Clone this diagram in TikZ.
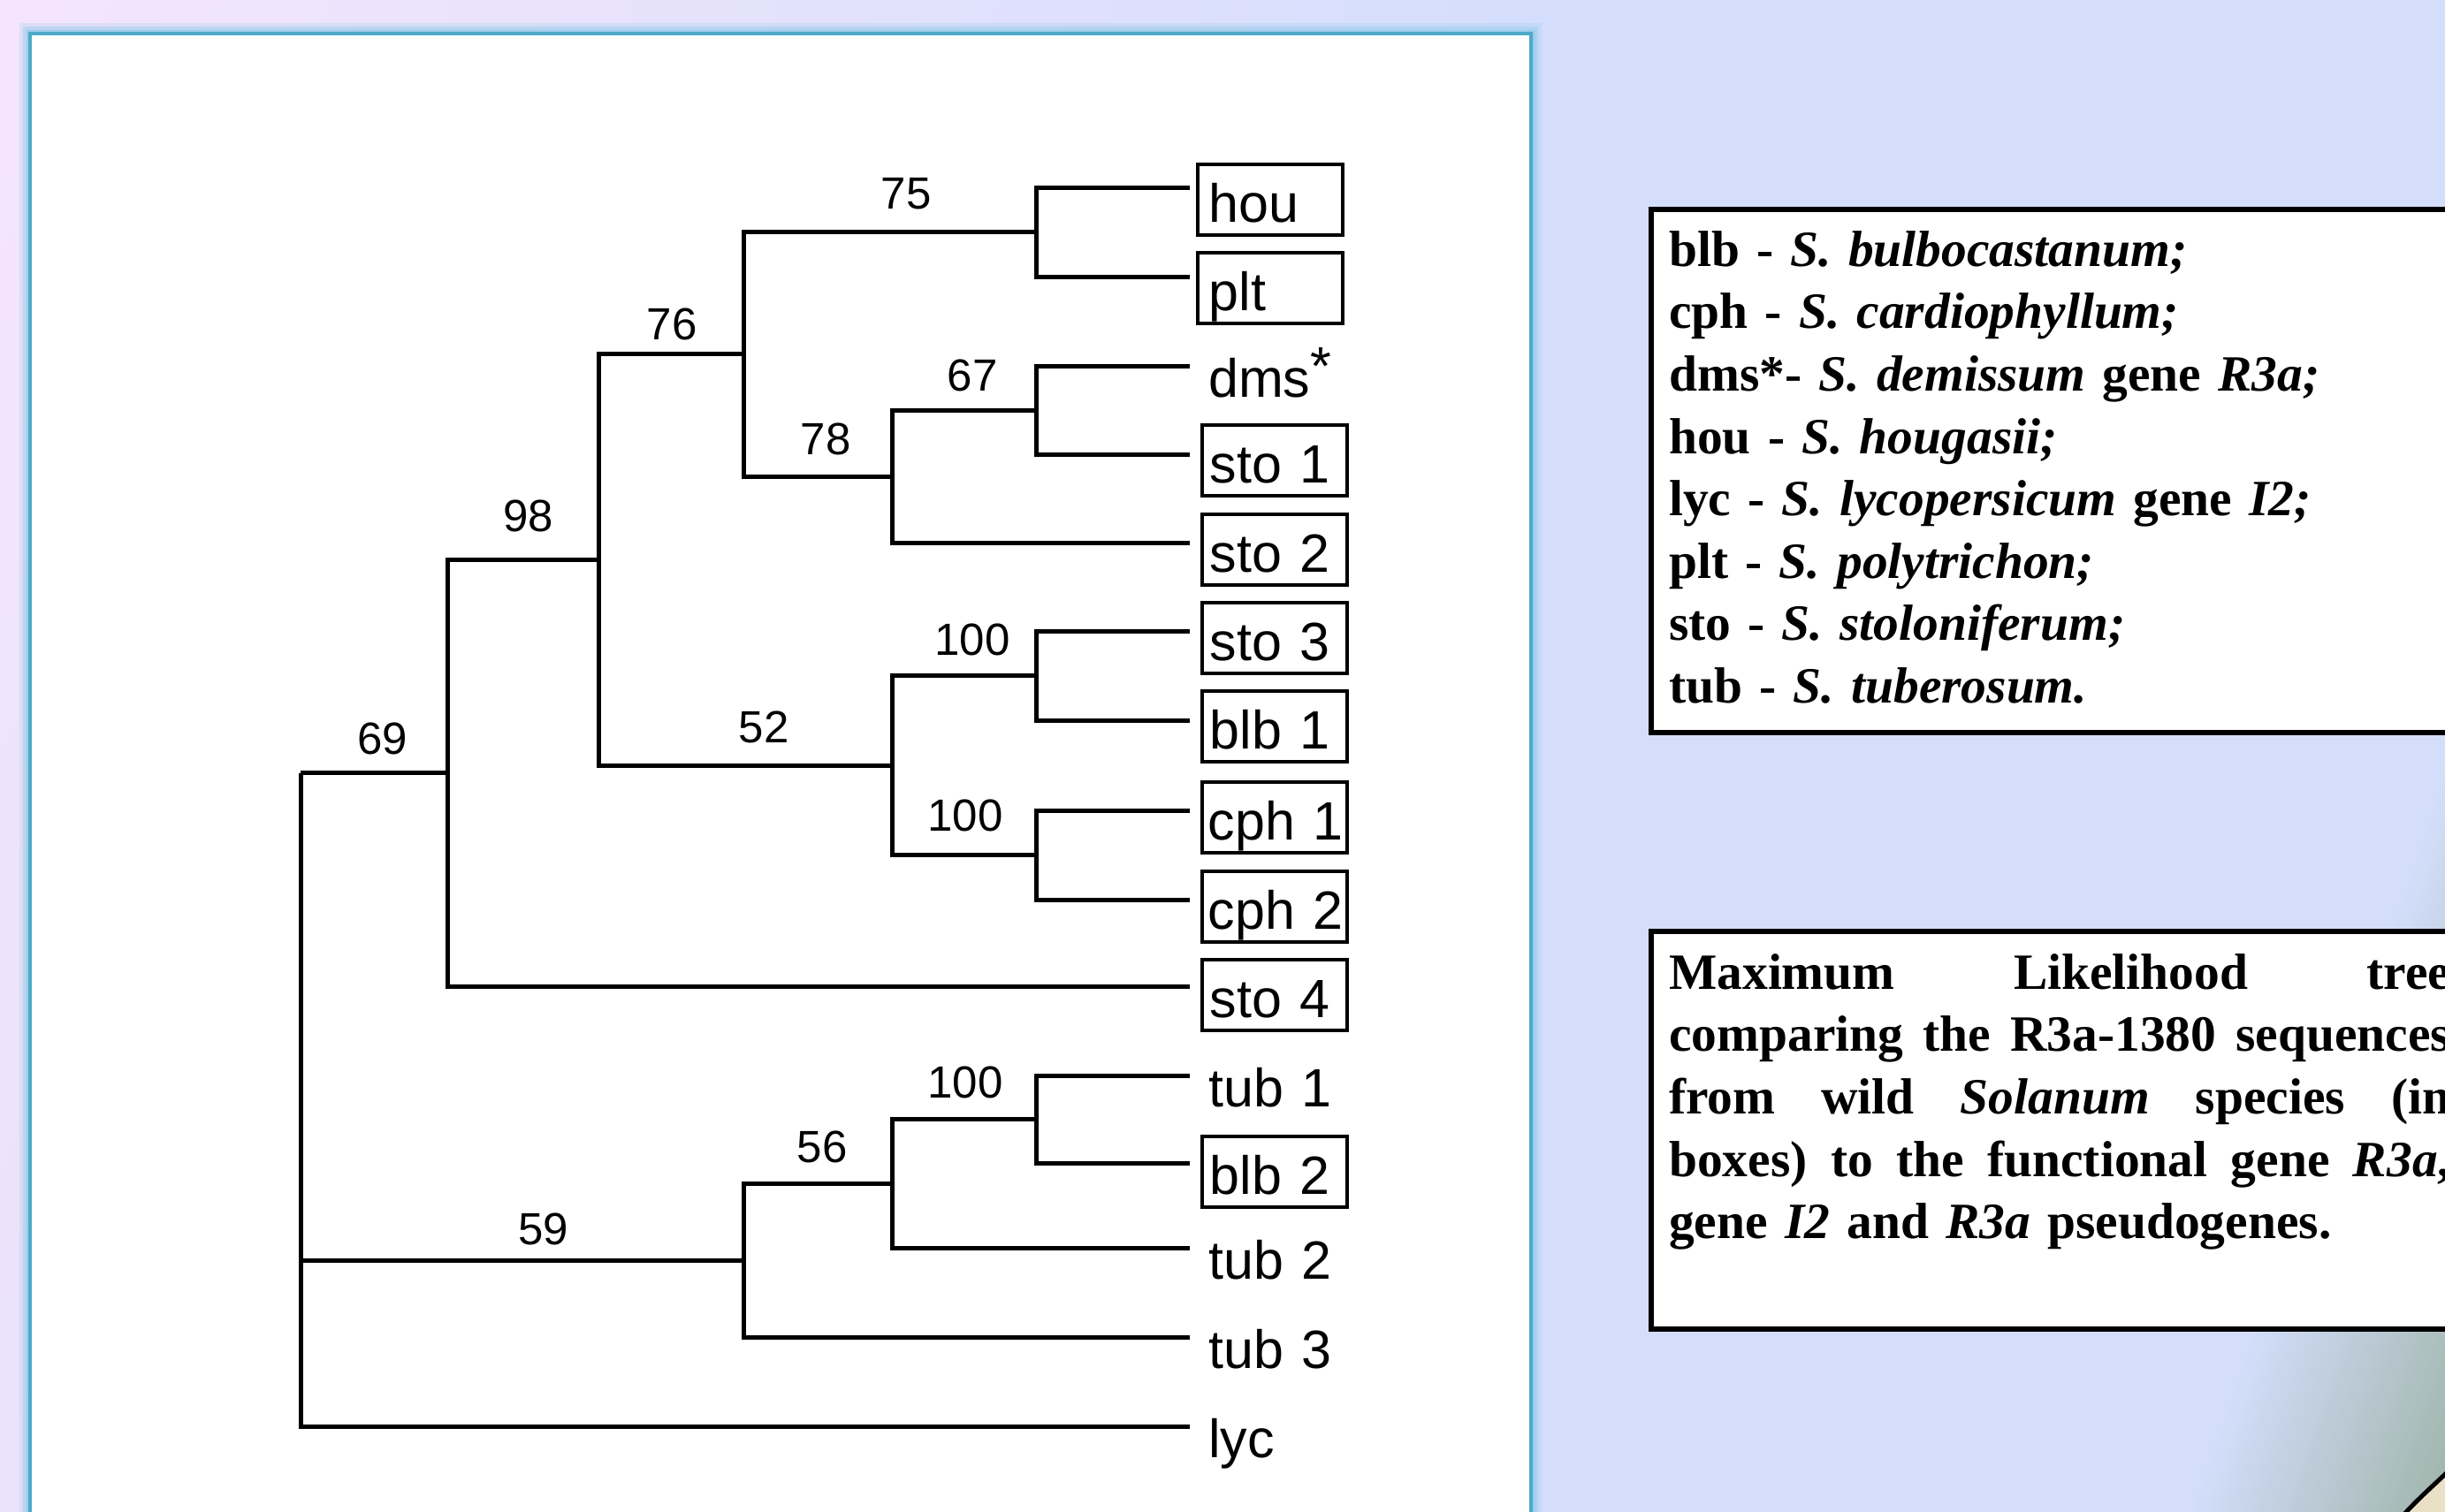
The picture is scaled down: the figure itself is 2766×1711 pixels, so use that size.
\documentclass[tikz,border=0pt]{standalone}
\usepackage{fontspec}
\setmainfont{Liberation Serif}
\newfontfamily\arialf{Liberation Sans}
\usetikzlibrary{calc,shadings}
\definecolor{bgpink}{RGB}{245,229,252}
\definecolor{bglav}{RGB}{234,226,251}
\definecolor{bgblue}{RGB}{212,222,252}
\definecolor{cornergrey}{RGB}{160,180,170}
\definecolor{curlbeige}{RGB}{233,224,198}
\definecolor{panelteal}{RGB}{78,170,200}
\definecolor{panelglow}{RGB}{152,204,234}
\begin{document}
\begin{tikzpicture}[x=1pt,y=-1pt,
  branch/.style={line width=5pt, line join=miter, line cap=butt},
  leaflab/.style={anchor=west, font=\arialf\fontsize{61}{61}\selectfont, text width=164pt, align=left,
     inner xsep=0pt, inner ysep=5pt, text height=60pt, text depth=10pt, minimum height=80pt},
  boxedlab/.style={leaflab, draw, line width=3.8pt},
  boot/.style={font=\arialf\fontsize{51}{51}\selectfont, inner sep=0pt},
  legbox/.style={draw, line width=5.5pt, fill=white, anchor=north west, minimum width=1000pt},
  legtext/.style={anchor=north west, inner sep=0pt, text width=950pt, align=left,
     font=\bfseries\fontsize{57.5}{70.6}\selectfont}]
\useasboundingbox (0,0) rectangle (2766,1711);
\clip (0,0) rectangle (2766,1711);
% background
\shade[upper left=bgpink, upper right=bgblue, lower left=bglav, lower right=bgblue] (0,0) rectangle (1760,1711);
\fill[bgblue] (1759,0) rectangle (2766,1711);
% corner shadow
\coordinate (cA) at (2470,1711);
\coordinate (cB) at (2766,847);
\coordinate (cC) at (2766,1711);
\foreach \i in {0,...,59} {
  \pgfmathsetmacro\tt{\i/60}
  \pgfmathtruncatemacro\pct{100*\i/59}
  \fill[cornergrey!\pct!bgblue] ($(cA)!\tt!(cC)$) -- ($(cB)!\tt!(cC)$) -- (cC) -- cycle;
}
% page curl
\fill[curlbeige] (2712,1722) .. controls (2735,1696) and (2752,1682) .. (2778,1657) -- (2800,1657) -- (2800,1750) -- (2712,1750) -- cycle;
\draw[line width=5pt] (2712,1722) .. controls (2735,1696) and (2752,1682) .. (2778,1657);
% panel
\draw[panelglow, line width=24pt, opacity=0.25] (34,38) rectangle (1732,1780);
\draw[panelglow, line width=16pt, opacity=0.45] (34,38) rectangle (1732,1780);
\draw[panelglow, line width=9pt, opacity=0.8] (34,38) rectangle (1732,1780);
\fill[white] (34,38) rectangle (1732,1780);
\draw[panelteal, line width=4pt] (34,38) rectangle (1732,1780);
% leaf end points
\coordinate (Lhou) at (1346,212);
\coordinate (Lplt) at (1346,313);
\coordinate (Ldms) at (1346,414);
\coordinate (Lsto1) at (1346,514);
\coordinate (Lsto2) at (1346,614);
\coordinate (Lsto3) at (1346,714);
\coordinate (Lblb1) at (1346,815);
\coordinate (Lcph1) at (1346,917);
\coordinate (Lcph2) at (1346,1018);
\coordinate (Lsto4) at (1346,1116);
\coordinate (Ltub1) at (1346,1217);
\coordinate (Lblb2) at (1346,1316);
\coordinate (Ltub2) at (1346,1412);
\coordinate (Ltub3) at (1346,1513);
\coordinate (Llyc) at (1346,1614);
% internal nodes
\coordinate (N75) at (1172,262.5);
\coordinate (N67) at (1172,464);
\coordinate (N78) at (1009,539);
\coordinate (N76) at (841,400.75);
\coordinate (N100a) at (1172,764.5);
\coordinate (N100b) at (1172,967.5);
\coordinate (N52) at (1009,866);
\coordinate (N98) at (677,633.4);
\coordinate (N69) at (506,874.7);
\coordinate (N100c) at (1172,1266.5);
\coordinate (N56) at (1009,1339.25);
\coordinate (N59) at (841,1426);
\coordinate (R) at (340,874.7);
% branches
\draw[branch] (N75) |- (Lhou);
\draw[branch] (N75) |- (Lplt);
\draw[branch] (N67) |- (Ldms);
\draw[branch] (N67) |- (Lsto1);
\draw[branch] (N78) |- (N67);
\draw[branch] (N78) |- (Lsto2);
\draw[branch] (N76) |- (N75);
\draw[branch] (N76) |- (N78);
\draw[branch] (N100a) |- (Lsto3);
\draw[branch] (N100a) |- (Lblb1);
\draw[branch] (N100b) |- (Lcph1);
\draw[branch] (N100b) |- (Lcph2);
\draw[branch] (N52) |- (N100a);
\draw[branch] (N52) |- (N100b);
\draw[branch] (N98) |- (N76);
\draw[branch] (N98) |- (N52);
\draw[branch] (N69) |- (N98);
\draw[branch] (N69) |- (Lsto4);
\draw[branch] (N100c) |- (Ltub1);
\draw[branch] (N100c) |- (Lblb2);
\draw[branch] (N56) |- (N100c);
\draw[branch] (N56) |- (Ltub2);
\draw[branch] (N59) |- (N56);
\draw[branch] (N59) |- (Ltub3);
\draw[branch] (R) |- (N69);
\draw[branch] (R) |- (N59);
\draw[branch] (R) |- (Llyc);
% leaf labels
\node[boxedlab] (hou) at (1353,226) {\mbox{\hspace*{13pt}hou}};
\node[boxedlab] (plt) at (1353,326) {\mbox{\hspace*{13pt}plt}};
\node[leaflab] (dms) at (1355,424) {\mbox{\hspace*{12pt}dms\raisebox{14pt}{*}}};
\node[boxedlab] (sto1) at (1358,521) {\mbox{\hspace*{9pt}sto 1}};
\node[boxedlab] (sto2) at (1358,622) {\mbox{\hspace*{9pt}sto 2}};
\node[boxedlab] (sto3) at (1358,722) {\mbox{\hspace*{9pt}sto 3}};
\node[boxedlab] (blb1) at (1358,822) {\mbox{\hspace*{9pt}blb 1}};
\node[boxedlab] (cph1) at (1358,925) {\mbox{\hspace*{7pt}cph 1}};
\node[boxedlab] (cph2) at (1358,1026) {\mbox{\hspace*{7pt}cph 2}};
\node[boxedlab] (sto4) at (1358,1126) {\mbox{\hspace*{9pt}sto 4}};
\node[leaflab] (tub1) at (1355,1227) {\mbox{\hspace*{12pt}tub 1}};
\node[boxedlab] (blb2) at (1358,1326) {\mbox{\hspace*{9pt}blb 2}};
\node[leaflab] (tub2) at (1355,1422) {\mbox{\hspace*{12pt}tub 2}};
\node[leaflab] (tub3) at (1355,1523) {\mbox{\hspace*{12pt}tub 3}};
\node[leaflab] (lyc) at (1355,1624) {\mbox{\hspace*{12pt}lyc}};
% bootstrap values
\node[boot] (b75) at (1025,219) {75};
\node[boot] (b76) at (760,367) {76};
\node[boot] (b67) at (1100,425) {67};
\node[boot] (b78) at (934,497) {78};
\node[boot] (b98) at (598,584) {98};
\node[boot] (b100a) at (1100,724) {100};
\node[boot] (b52) at (864,823) {52};
\node[boot] (b69) at (433,836) {69};
\node[boot] (b100b) at (1092,923) {100};
\node[boot] (b100c) at (1092,1225) {100};
\node[boot] (b56) at (930,1298) {56};
\node[boot] (b59) at (615,1391) {59};
% legend boxes
\node[legbox, minimum height=592pt] (legA) at (1865,234) {};
\node[legtext] (legAtxt) at (1888,253) {\rule{0pt}{48pt}blb - \textit{S. bulbocastanum;}\\
cph - \textit{S. cardiophyllum;}\\
dms*- \textit{S. demissum} gene \textit{R3a;}\\
hou - \textit{S. hougasii;}\\
lyc - \textit{S. lycopersicum} gene \textit{I2;}\\
plt - \textit{S. polytrichon;}\\
sto - \textit{S. stoloniferum;}\\
tub - \textit{S. tuberosum.}};
\node[legbox, minimum height=450pt] (legB) at (1865,1051) {};
\node[legtext] (legBtxt) at (1888,1071) {\rule{0pt}{48pt}\makebox[884pt][l]{Maximum\hfill Likelihood\hfill tree}\\
\makebox[884pt][l]{comparing\hfill the\hfill R3a-1380\hfill sequences}\\
\makebox[884pt][l]{from\hfill wild\hfill \textit{Solanum}\hfill species\hfill (in}\\
\makebox[884pt][l]{boxes)\hfill to\hfill the\hfill functional\hfill gene\hfill \textit{R3a},}\\
gene \textit{I2} and \textit{R3a} pseudogenes.};
\end{tikzpicture}
\end{document}
